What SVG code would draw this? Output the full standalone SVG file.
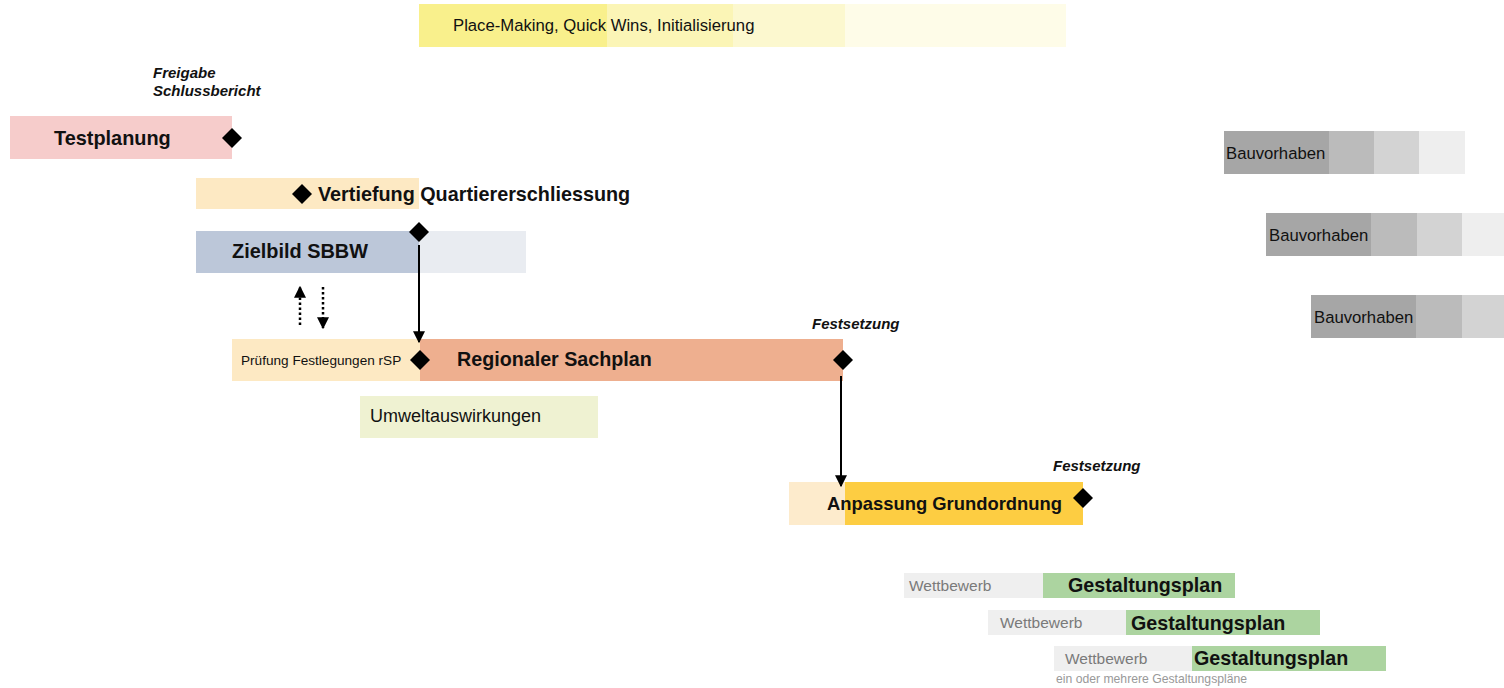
<svg xmlns="http://www.w3.org/2000/svg" width="1504" height="688" viewBox="0 0 1504 688">
<defs>
<style>
text{font-family:"Liberation Sans",Arial,sans-serif;fill:#111}
.b{font-weight:bold}
.bi{font-weight:bold;font-style:italic;font-size:15px}
.dia{fill:#000}
.g{fill:#7a7a7a}
</style>
<marker id="ah" markerWidth="12" markerHeight="12" refX="9" refY="5" orient="auto" markerUnits="userSpaceOnUse" viewBox="0 0 10 10"><path d="M0,0 L10,5 L0,10 Z" fill="#000"/></marker>
<path id="d" d="M0,-10 L10,0 L0,10 L-10,0 Z"/>
</defs>
<rect width="1504" height="688" fill="#fff"/>

<g id="placemaking">
<rect x="419" y="4" width="188" height="43" fill="#f9f08c"/>
<rect x="607" y="4" width="126" height="43" fill="#fbf5b6"/>
<rect x="733" y="4" width="112" height="43" fill="#fcf8cf"/>
<rect x="845" y="4" width="221" height="43" fill="#fefce8"/>
<text x="453" y="31" font-size="16.7">Place-Making, Quick Wins, Initialisierung</text>
</g>

<g id="freigabe">
<text class="bi" x="153" y="78">Freigabe</text>
<text class="bi" x="153" y="96">Schlussbericht</text>
</g>

<g id="testplanung">
<rect x="10" y="116" width="222" height="43" fill="#f6cccb"/>
<text class="b" x="54" y="145" font-size="19.9">Testplanung</text>
<use href="#d" x="232" y="138" class="dia"/>
</g>

<g id="vertiefung">
<rect x="196" y="178" width="223" height="31" fill="#fde9c3"/>
<use href="#d" x="302" y="194" class="dia"/>
<text class="b" x="318" y="201" font-size="19.8">Vertiefung Quartiererschliessung</text>
</g>

<g id="zielbild">
<rect x="196" y="231" width="223" height="42" fill="#bcc7d9"/>
<rect x="419" y="231" width="107" height="42" fill="#e9ecf1"/>
<text class="b" x="232" y="258" font-size="19.9">Zielbild SBBW</text>
<use href="#d" x="419" y="232" class="dia"/>
</g>

<g id="pruefung">
<rect x="232" y="339" width="188" height="42" fill="#fde9c3"/>
<text x="241" y="365" font-size="13.6">Prüfung Festlegungen rSP</text>
</g>

<g id="sachplan">
<rect x="420" y="339" width="423" height="42" fill="#eeaf8f"/>
<text class="b" x="457" y="366" font-size="19.7">Regionaler Sachplan</text>
<use href="#d" x="420" y="360" class="dia"/>
<use href="#d" x="843" y="360" class="dia"/>
<text class="bi" x="812" y="329">Festsetzung</text>
</g>

<g id="umwelt">
<rect x="360" y="396" width="238" height="42" fill="#eff2d2"/>
<text x="370" y="422" font-size="18">Umweltauswirkungen</text>
</g>

<g id="anpassung">
<rect x="789" y="482" width="56" height="43" fill="#fdebcc"/>
<rect x="845" y="482" width="238" height="43" fill="#fdcd42"/>
<text class="b" x="827" y="510" font-size="18.4">Anpassung Grundordnung</text>
<use href="#d" x="1083" y="498" class="dia"/>
<text class="bi" x="1053" y="471">Festsetzung</text>
</g>

<g id="gestaltung1">
<rect x="904" y="573" width="139" height="25" fill="#efefef"/>
<rect x="1043" y="573" width="192" height="25" fill="#acd4a0"/>
<text class="g" x="909" y="591" font-size="15.5">Wettbewerb</text>
<text class="b" x="1068" y="592" font-size="19.7">Gestaltungsplan</text>
</g>
<g id="gestaltung2">
<rect x="988" y="610" width="138" height="25" fill="#efefef"/>
<rect x="1126" y="610" width="194" height="25" fill="#acd4a0"/>
<text class="g" x="1000" y="628" font-size="15.5">Wettbewerb</text>
<text class="b" x="1131" y="630" font-size="19.7">Gestaltungsplan</text>
</g>
<g id="gestaltung3">
<rect x="1054" y="646" width="138" height="25" fill="#efefef"/>
<rect x="1192" y="646" width="194" height="25" fill="#acd4a0"/>
<text class="g" x="1065" y="664" font-size="15.5">Wettbewerb</text>
<text class="b" x="1194" y="665" font-size="19.7">Gestaltungsplan</text>
<text x="1056" y="683" font-size="12.2" style="fill:#999">ein oder mehrere Gestaltungspläne</text>
</g>

<g id="bau1">
<rect x="1224" y="131" width="105" height="43" fill="#a6a6a6"/>
<rect x="1329" y="131" width="45" height="43" fill="#bbbbbb"/>
<rect x="1374" y="131" width="45" height="43" fill="#d3d3d3"/>
<rect x="1419" y="131" width="46" height="43" fill="#eeeeee"/>
<text x="1226" y="159" font-size="16.7">Bauvorhaben</text>
</g>
<g id="bau2">
<rect x="1266" y="213" width="105" height="43" fill="#a6a6a6"/>
<rect x="1371" y="213" width="46" height="43" fill="#bbbbbb"/>
<rect x="1417" y="213" width="45" height="43" fill="#d3d3d3"/>
<rect x="1462" y="213" width="42" height="43" fill="#eeeeee"/>
<text x="1269" y="241" font-size="16.7">Bauvorhaben</text>
</g>
<g id="bau3">
<rect x="1311" y="295" width="105" height="43" fill="#a6a6a6"/>
<rect x="1416" y="295" width="46" height="43" fill="#bbbbbb"/>
<rect x="1462" y="295" width="42" height="43" fill="#d3d3d3"/>
<text x="1314" y="323" font-size="16.7">Bauvorhaben</text>
</g>

<g id="connectors" stroke="#000" fill="none">
<line x1="419" y1="245" x2="419" y2="342" stroke-width="2" marker-end="url(#ah)"/>
<line x1="841" y1="376" x2="841" y2="486" stroke-width="2" marker-end="url(#ah)"/>
<line x1="300" y1="325" x2="300" y2="287" stroke-width="2.5" stroke-dasharray="2.5,2.5" marker-end="url(#ah)"/>
<line x1="323" y1="287" x2="323" y2="328" stroke-width="2.5" stroke-dasharray="2.5,2.5" marker-end="url(#ah)"/>
</g>
</svg>
